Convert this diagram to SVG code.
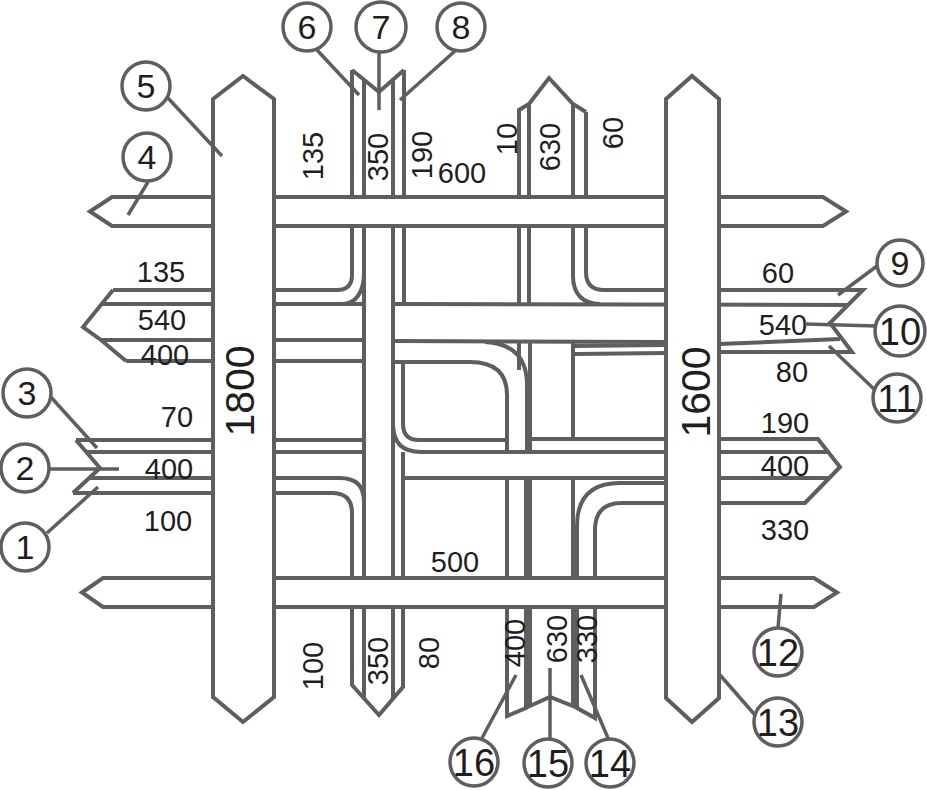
<svg xmlns="http://www.w3.org/2000/svg" width="927" height="790" viewBox="0 0 927 790">
<style>
.ln{fill:none;stroke:#5e5e5e;stroke-width:4;stroke-linejoin:miter}
.rd{fill:#fff;stroke:#5e5e5e;stroke-width:4;stroke-linejoin:miter}
.t{font-family:"Liberation Sans",Arial,sans-serif;font-size:29px;fill:#1e1e1e;text-anchor:middle}
.big{font-size:41px}
.ld{stroke:#5e5e5e;stroke-width:3.5;fill:none}
.c circle{fill:#fff;stroke:#5e5e5e;stroke-width:3.5}
.c text{font-family:"Liberation Sans",Arial,sans-serif;font-size:34px;fill:#1e1e1e;text-anchor:middle}
.c text.d2{font-size:38px}
</style>
<rect width="927" height="790" fill="#fff"/>
<g id="lanes" class="ln">
<path d="M352,70 L379,92 L404,70"/>
<path d="M113,290 H337 Q352,290 352,275 V70"/>
<path d="M364,80 V698"/>
<path d="M393,80 V699"/>
<path d="M404,70 V304"/>
<path d="M364,272 C364,292 356,304 342,304"/>
<path d="M102,304 H364"/>
<path d="M101,340 H364"/>
<path d="M126,361 H364"/>
<path d="M113,290 L83,327 L101,340 L126,361"/>
<path d="M76,440 L100,468 L73,493"/>
<path d="M76,440 H364"/>
<path d="M86,452 H364"/>
<path d="M90,478 H340 Q364,478 364,502"/>
<path d="M73,493 H332 Q352,493 352,513 V685 L379,715 L403,687 V452"/>
<path d="M403,362 V424 Q403,440 419,440 H505"/>
<path d="M393,424 Q393,452 421,452 H828"/>
<path d="M403,478 H828"/>
<path d="M393,304 L848,305"/>
<path d="M393,341 L666,342"/>
<path d="M393,362 H470 Q507,362 507,395 V452"/>
<path d="M485,342 Q527,344 527,385 V452"/>
<path d="M507,479 V716 L526,708 V479"/>
<path d="M530,479 V706 L550,697 L573,706 V479"/>
<path d="M519,304 V110 L529,104 L549,78 L573,104 L586,112"/>
<path d="M529,104 V304"/>
<path d="M573,104 V276 C573,294 583,304 600,304"/>
<path d="M586,112 V272 Q586,290 604,290 H863 L830,323 L852,352 H719"/>
<path d="M666,353 L575,354"/>
<path d="M519,342 V370"/>
<path d="M530,342 V452"/>
<path d="M573,342 V438"/>
<path d="M575,346 L666,345"/>
<path d="M719,344 L840,339"/>
<path d="M528,439 H818 L840,467 L805,503 H622 Q595,503 595,530 V718 L577,708 V526 Q577,483 620,483 H666"/>
</g>
<g id="roads" class="rd">
<polygon id="road-top" points="90,211.5 112,197 823,197 846,211.5 823,226 112,226"/>
<polygon id="road-bottom" points="82,592.5 103,578 814,578 837,592.5 814,607 103,607"/>
<polygon id="road-1800" points="213,99 243,76 274,99 274,697 243,722 213,697"/>
<polygon id="road-1600" points="666,99 692,76 719,99 719,698 692,722 666,698"/>
</g>
<g id="labels" class="t">
<text class="big" transform="translate(254,391) rotate(-90)">1800</text>
<text class="big" transform="translate(710,392) rotate(-90)">1600</text>
<text x="161" y="282">135</text>
<text x="162" y="330">540</text>
<text x="165" y="365">400</text>
<text x="177" y="427">70</text>
<text x="169" y="479">400</text>
<text x="168" y="531">100</text>
<text x="462" y="183">600</text>
<text x="455" y="572">500</text>
<text x="778" y="283">60</text>
<text x="783" y="335">540</text>
<text x="792" y="382">80</text>
<text x="785" y="433">190</text>
<text x="785" y="476">400</text>
<text x="785" y="540">330</text>
<text transform="translate(323,156) rotate(-90)">135</text>
<text transform="translate(388,157) rotate(-90)">350</text>
<text transform="translate(432,155) rotate(-90)">190</text>
<text transform="translate(517,139) rotate(-90)">10</text>
<text transform="translate(560,147) rotate(-90)">630</text>
<text transform="translate(623,133) rotate(-90)">60</text>
<text transform="translate(323,666) rotate(-90)">100</text>
<text transform="translate(388,661) rotate(-90)">350</text>
<text transform="translate(439,653) rotate(-90)">80</text>
<text transform="translate(525,643) rotate(-90)">400</text>
<text transform="translate(567,639) rotate(-90)">630</text>
<text transform="translate(597,639) rotate(-90)">330</text>
</g>
<g id="leaders" class="ld">
<line x1="47" y1="533" x2="98" y2="487"/>
<line x1="49" y1="469" x2="119" y2="469"/>
<line x1="49" y1="395" x2="97" y2="448"/>
<line x1="148" y1="182" x2="128" y2="215"/>
<line x1="167" y1="97" x2="222" y2="156"/>
<line x1="317" y1="50" x2="359" y2="95"/>
<line x1="379" y1="51" x2="379" y2="110"/>
<line x1="455" y1="51" x2="400" y2="100"/>
<line x1="877" y1="266" x2="838" y2="295"/>
<line x1="876" y1="326" x2="805" y2="324"/>
<line x1="875" y1="390" x2="829" y2="346"/>
<line x1="778" y1="628" x2="781" y2="594"/>
<line x1="755" y1="715" x2="720" y2="675"/>
<line x1="608" y1="738" x2="581" y2="675"/>
<line x1="550" y1="738" x2="550" y2="668"/>
<line x1="482" y1="738" x2="516" y2="675"/>
</g>
<g id="callout-1" class="c"><circle cx="25" cy="547" r="24"/><text x="25" y="559">1</text></g>
<g id="callout-2" class="c"><circle cx="25" cy="468" r="24"/><text x="25" y="480">2</text></g>
<g id="callout-3" class="c"><circle cx="27" cy="393" r="24"/><text x="27" y="405">3</text></g>
<g id="callout-4" class="c"><circle cx="147" cy="157" r="24"/><text x="147" y="169">4</text></g>
<g id="callout-5" class="c"><circle cx="146" cy="86" r="24"/><text x="146" y="98">5</text></g>
<g id="callout-6" class="c"><circle cx="307" cy="27" r="24"/><text x="307" y="39">6</text></g>
<g id="callout-7" class="c"><circle cx="381" cy="27" r="25"/><text x="381" y="39">7</text></g>
<g id="callout-8" class="c"><circle cx="461" cy="27" r="24"/><text x="461" y="39">8</text></g>
<g id="callout-9" class="c"><circle cx="900" cy="263" r="23"/><text x="900" y="275">9</text></g>
<g id="callout-10" class="c"><circle cx="900" cy="331" r="25"/><text class="d2" x="900" y="345">10</text></g>
<g id="callout-11" class="c"><circle cx="897" cy="398" r="24"/><text class="d2" x="897" y="412">11</text></g>
<g id="callout-12" class="c"><circle cx="778" cy="652" r="24"/><text class="d2" x="778" y="666">12</text></g>
<g id="callout-13" class="c"><circle cx="778" cy="722" r="24"/><text class="d2" x="778" y="736">13</text></g>
<g id="callout-14" class="c"><circle cx="610" cy="763" r="24"/><text class="d2" x="610" y="777">14</text></g>
<g id="callout-15" class="c"><circle cx="548" cy="763" r="24"/><text class="d2" x="548" y="777">15</text></g>
<g id="callout-16" class="c"><circle cx="474" cy="762" r="24"/><text class="d2" x="474" y="776">16</text></g>
</svg>
